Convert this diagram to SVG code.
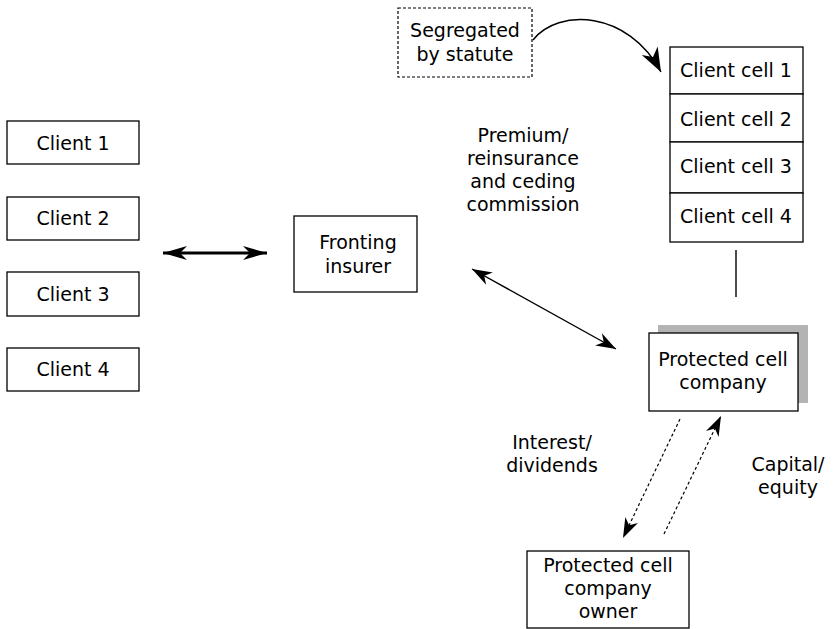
<svg xmlns="http://www.w3.org/2000/svg" width="833" height="629" viewBox="0 0 833 629">
  <style>
    .box { fill: #ffffff; stroke: #000000; stroke-width: 1.3; }
    .seg { fill: #ffffff; stroke: #000000; stroke-width: 1.2; stroke-dasharray: 3 2; }
    .shadow { fill: #b3b3b3; stroke: none; }
    text { font-family: "DejaVu Sans", "Liberation Sans", sans-serif; font-size: 19px; fill: #000000; text-anchor: middle; }
    .link { fill: none; stroke: #000000; stroke-width: 1.4; }
    .thick { stroke-width: 2.8; }
    .dash { stroke-width: 1.2; stroke-dasharray: 3 2.5; }
  </style>
  <defs>
    <!-- barbed arrowheads, sized in user units -->
    <marker id="head" viewBox="-21 -8 23 16" refX="0" refY="0" markerWidth="23" markerHeight="16" markerUnits="userSpaceOnUse" orient="auto-start-reverse">
      <path d="M0,0 L-20,-7 L-14,0 L-20,7 Z" fill="#000000"/>
    </marker>
    <marker id="headWide" viewBox="-25 -8 27 16" refX="0" refY="0" markerWidth="27" markerHeight="16" markerUnits="userSpaceOnUse" orient="auto-start-reverse">
      <path d="M0,0 L-24,-7 L-17,0 L-24,7 Z" fill="#000000"/>
    </marker>
    <marker id="headBig" viewBox="-26 -10 28 20" refX="0" refY="0" markerWidth="28" markerHeight="20" markerUnits="userSpaceOnUse" orient="auto">
      <path d="M0,0 L-24,-9 L-17,0 L-24,9 Z" fill="#000000"/>
    </marker>
  </defs>

  <!-- clients -->
  <g id="client1"><rect class="box" x="7" y="121" width="132" height="43"/><text x="73" y="150">Client 1</text></g>
  <g id="client2"><rect class="box" x="7" y="197" width="132" height="43"/><text x="73" y="225">Client 2</text></g>
  <g id="client3"><rect class="box" x="7" y="272" width="132" height="44"/><text x="73" y="301">Client 3</text></g>
  <g id="client4"><rect class="box" x="7" y="348" width="132" height="43"/><text x="73" y="376">Client 4</text></g>

  <!-- fronting insurer -->
  <g id="fronting"><rect class="box" x="294" y="216" width="123" height="76"/>
    <text x="358" y="249">Fronting<tspan x="358" dy="24">insurer</tspan></text></g>

  <!-- statutory segregation note -->
  <g id="segregated"><rect class="seg" x="398" y="8" width="134" height="69"/>
    <text x="465" y="37">Segregated<tspan x="465" dy="24">by statute</tspan></text></g>

  <!-- client cells -->
  <g id="cells">
    <rect class="box" x="670" y="47" width="133" height="47"/><text x="736" y="77">Client cell 1</text>
    <rect class="box" x="670" y="94" width="133" height="48"/><text x="736" y="126">Client cell 2</text>
    <rect class="box" x="670" y="142" width="133" height="51"/><text x="736" y="173">Client cell 3</text>
    <rect class="box" x="670" y="193" width="133" height="49"/><text x="736" y="223">Client cell 4</text>
  </g>

  <!-- protected cell company -->
  <g id="pcc">
    <rect class="shadow" x="658" y="325" width="150" height="78"/>
    <rect class="box" x="649" y="333" width="149" height="78"/>
    <text x="723" y="366">Protected cell<tspan x="723" dy="23">company</tspan></text>
  </g>

  <!-- owner -->
  <g id="owner"><rect class="box" x="527" y="551" width="162" height="77"/>
    <text x="608" y="572">Protected cell<tspan x="608" dy="23">company</tspan><tspan x="608" dy="23">owner</tspan></text></g>

  <!-- flow labels -->
  <g id="labels">
    <text x="523" y="142">Premium/<tspan x="523" dy="23">reinsurance</tspan><tspan x="523" dy="23">and ceding</tspan><tspan x="523" dy="23">commission</tspan></text>
    <text x="552" y="449">Interest/<tspan x="552" dy="23">dividends</tspan></text>
    <text x="788" y="471">Capital/<tspan x="788" dy="23">equity</tspan></text>
  </g>

  <!-- connectors -->
  <g id="connectors">
    <line class="link thick" x1="163" y1="253" x2="267" y2="253" marker-start="url(#headWide)" marker-end="url(#headWide)"/>
    <line class="link" x1="472" y1="269" x2="616" y2="349" marker-start="url(#head)" marker-end="url(#head)"/>
    <line class="link" x1="736" y1="250" x2="736" y2="297"/>
    <path class="link" d="M533,40 C558,8 628,10 661,72" marker-end="url(#headBig)"/>
    <line class="link dash" x1="680" y1="419" x2="623" y2="538" marker-end="url(#head)"/>
    <line class="link dash" x1="664" y1="534" x2="721" y2="416" marker-end="url(#head)"/>
  </g>
</svg>
